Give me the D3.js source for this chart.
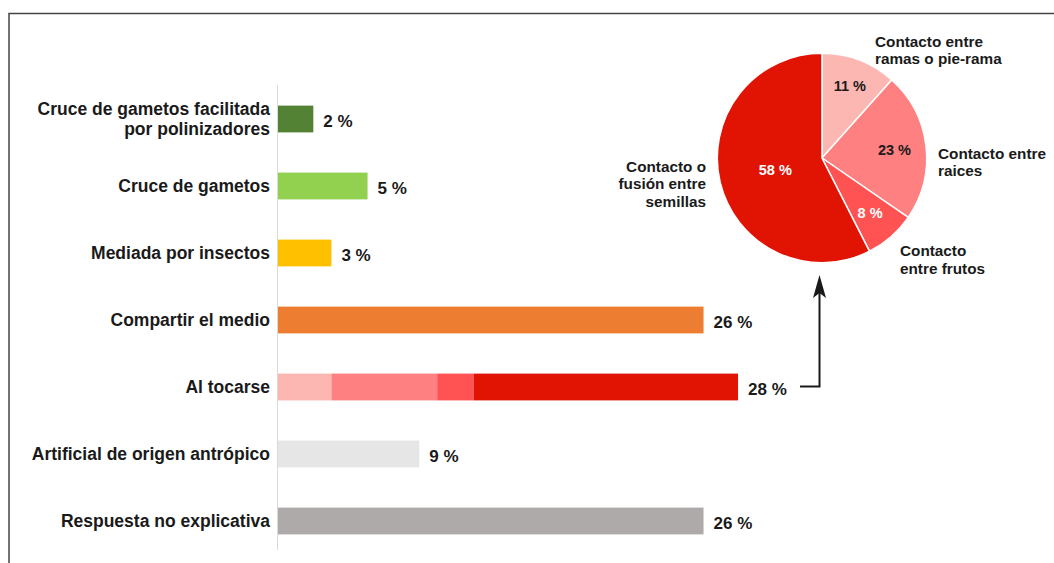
<!DOCTYPE html>
<html><head><meta charset="utf-8">
<script src="https://cdn.jsdelivr.net/npm/d3@7"></script>
<style>
html,body{margin:0;padding:0;background:#fff;}
svg{display:block;font-family:"Liberation Sans",Arial,sans-serif;font-weight:bold;}
</style></head>
<body>
<svg id="c" width="1054" height="563"></svg>
<script>
// ---- data ----
const categories = [
  ["Cruce de gametos facilitada", "por polinizadores"],
  ["Cruce de gametos"],
  ["Mediada por insectos"],
  ["Compartir el medio"],
  ["Al tocarse"],
  ["Artificial de origen antrópico"],
  ["Respuesta no explicativa"]
];
const values = [2.15, 5.45, 3.25, 25.9, 28.0, 8.6, 25.9];
const valueLabels = ["2 %", "5 %", "3 %", "26 %", "28 %", "9 %", "26 %"];
const barColors = ["#548235", "#92D050", "#FFC000", "#ED7D31", null, "#E7E6E6", "#AEAAAA"];

const subCategories = [
  ["Contacto entre", "ramas o pie-rama"],
  ["Contacto entre", "raices"],
  ["Contacto", "entre frutos"],
  ["Contacto o", "fusión entre", "semillas"]
];
const subValues = [11.6, 23.0, 7.9, 57.5];
const subLabels = ["11 %", "23 %", "8 %", "58 %"];
const subColors = ["#FDB7B3", "#FF8080", "#FF5252", "#E11404"];
const subTextColors = ["#1a1a1a", "#1a1a1a", "#ffffff", "#ffffff"];

// ---- chart ----
const svg = d3.select("#c");
const ink = "#1a1a1a";

// frame
svg.append("path").attr("d", "M9,563 V13.5 H1054")
  .attr("fill", "none").attr("stroke", "#444").attr("stroke-width", 1.5);

const x = d3.scaleLinear().domain([0, 30]).range([278, 770.9]);
const y = d3.scaleBand().domain(d3.range(categories.length)).range([85.5, 554.5])
  .paddingInner(0.6).paddingOuter(0.3);

// axis line
svg.append("line").attr("x1", 277.5).attr("x2", 277.5).attr("y1", 85).attr("y2", 550)
  .attr("stroke", "#d9d9d9").attr("stroke-width", 1);

// simple bars
const simple = d3.range(values.length).filter(i => barColors[i]);
svg.selectAll("rect.bar").data(simple).join("rect").attr("class", "bar")
  .attr("x", x(0)).attr("y", i => y(i))
  .attr("width", i => x(values[i]) - x(0)).attr("height", y.bandwidth())
  .attr("fill", i => barColors[i]);

// stacked bar (Al tocarse)
const si = 4;
const subTotal = d3.sum(subValues);
const stackScale = d3.scaleLinear().domain([0, subTotal]).range([x(0), x(values[si])]);
let cum = 0;
const stackData = subValues.map((v, k) => { const d = {k, a: cum, b: cum + v}; cum += v; return d; });
svg.selectAll("rect.stk").data(stackData).join("rect").attr("class", "stk")
  .attr("x", d => stackScale(d.a)).attr("y", y(si))
  .attr("width", d => stackScale(d.b) - stackScale(d.a)).attr("height", y.bandwidth())
  .attr("fill", d => subColors[d.k]);

// value labels
svg.selectAll("text.val").data(d3.range(values.length)).join("text").attr("class", "val")
  .attr("x", i => x(values[i]) + 10).attr("y", i => y(i) + y.bandwidth() / 2 + 7.5)
  .attr("font-size", 17).attr("fill", ink).text(i => valueLabels[i]);

// category labels
categories.forEach((lines, i) => {
  const cy = y(i) + y.bandwidth() / 2;
  const t = svg.append("text").attr("text-anchor", "end").attr("font-size", 17.5).attr("fill", ink);
  const lh = 20;
  const start = cy + 5.5 - (lines.length - 1) * lh / 2;
  lines.forEach((s, j) => t.append("tspan").attr("x", 270).attr("y", start + j * lh).text(s));
});

// pie
const cx = 822, cyP = 158, R = 104.7;
const pie = d3.pie().sort(null).value(d => d)(subValues);
const arc = d3.arc().innerRadius(0).outerRadius(R);
const g = svg.append("g").attr("transform", `translate(${cx},${cyP})`);
g.selectAll("path").data(pie).join("path").attr("d", arc)
  .attr("fill", (d, i) => subColors[i]).attr("stroke", "#fff").attr("stroke-width", 1.5);

const labelR = [78, 73, 73, 48];
g.selectAll("text").data(pie).join("text")
  .attr("transform", (d, i) => {
    const c = d3.arc().innerRadius(labelR[i]).outerRadius(labelR[i]).centroid(d);
    return `translate(${c[0]},${c[1] + 5.5})`;
  })
  .attr("text-anchor", "middle").attr("font-size", 14.5)
  .attr("fill", (d, i) => subTextColors[i]).text((d, i) => subLabels[i]);

// pie outside labels
const outPos = [
  {x: 875, y: 46.5, a: "start"},
  {x: 938, y: 158.5, a: "start"},
  {x: 900, y: 256, a: "start"},
  {x: 706, y: 171.5, a: "end"}
];
subCategories.forEach((lines, i) => {
  const t = svg.append("text").attr("text-anchor", outPos[i].a).attr("font-size", 15.3).attr("fill", ink);
  lines.forEach((s, j) => t.append("tspan").attr("x", outPos[i].x).attr("y", outPos[i].y + j * 17.5).text(s));
});

// connector arrow
const ay = y(si) + y.bandwidth() / 2 - 0.5;
const ax = cx - 2.5;
svg.append("path").attr("d", `M${x(values[si]) + 62},${ay} H${ax} V290`)
  .attr("fill", "none").attr("stroke", ink).attr("stroke-width", 2);
svg.append("path")
  .attr("d", `M${ax},275 L${ax + 6.5},298 L${ax},293 L${ax - 6.5},298 Z`)
  .attr("fill", ink);
</script>
</body></html>
